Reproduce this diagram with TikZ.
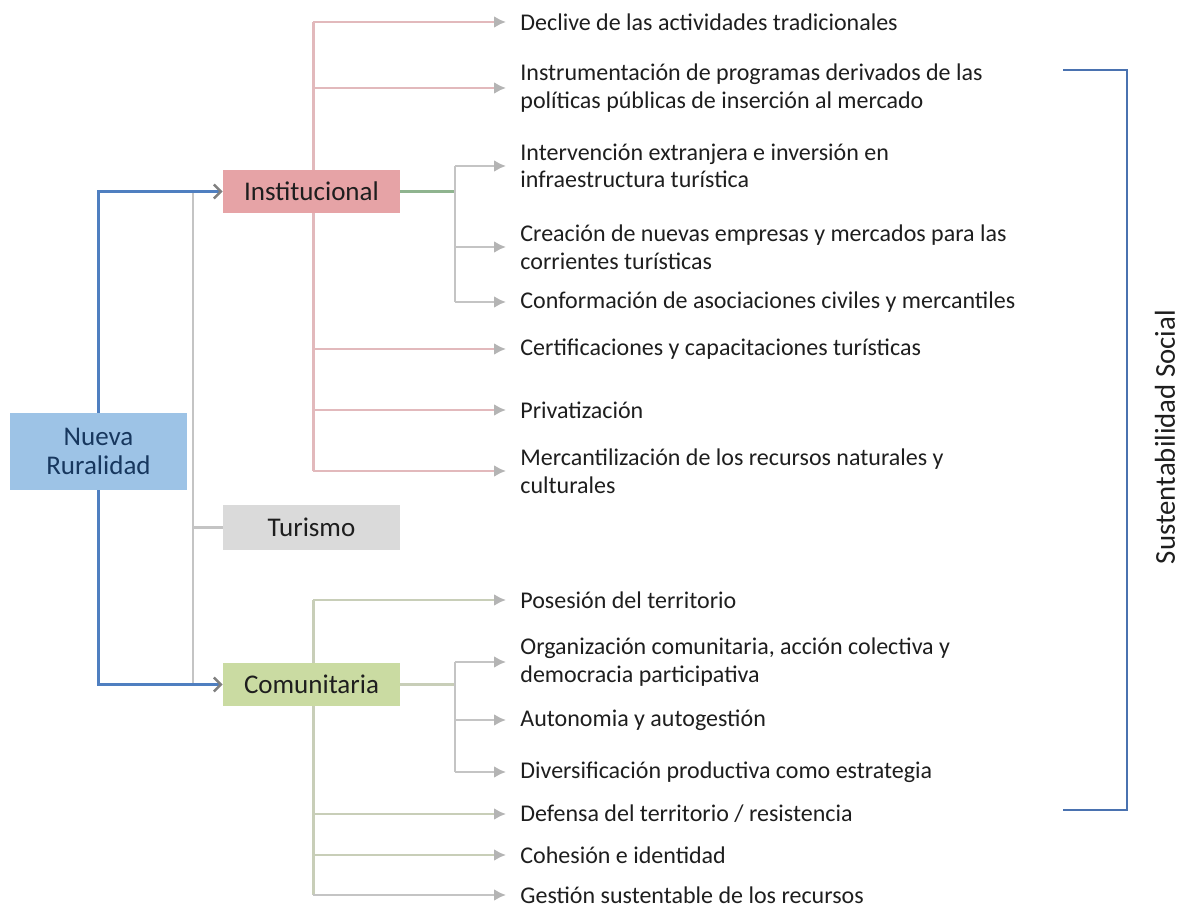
\documentclass[tikz,border=0pt]{standalone}
\usepackage{fontspec}
\setmainfont{Carlito}
\usepackage{xcolor}
\usepackage{tikz}
\usetikzlibrary{positioning}
\usetikzlibrary{arrows.meta}
\definecolor{ruralbg}{HTML}{9DC3E6}
\definecolor{ruralfg}{HTML}{17375E}
\definecolor{instbg}{HTML}{E6A3A6}
\definecolor{comubg}{HTML}{CADBA2}
\definecolor{turbg}{HTML}{DADADA}
\definecolor{leaffg}{HTML}{1E1E1E}
\definecolor{linkblue}{HTML}{4F7FC0}
\definecolor{bracketblue}{HTML}{4A72B0}
\definecolor{instline}{HTML}{E2B9BC}
\definecolor{comuline}{HTML}{C8CEB8}
\definecolor{greyline}{HTML}{C4C4C4}
\definecolor{tipgrey}{HTML}{B4B4B4}
\definecolor{instgreen}{HTML}{8FB48F}

\begin{document}
\begin{tikzpicture}[x=0.5pt, y=-0.5pt, text=leaffg,
	box/.style = {rectangle, align=center, minimum width=88.5pt, minimum height=21.5pt, inner sep=0pt, font=\fontsize{13.5}{14.5}\selectfont},
	rural/.style = {box, fill=ruralbg, text=ruralfg, minimum height=38.5pt},
	inst/.style = {box, fill=instbg},
	tur/.style = {box, fill=turbg, minimum height=22.5pt},
	comu/.style = {box, fill=comubg},
	leaf/.style = {anchor=west, align=left, inner sep=3pt, font=\fontsize{12}{13.8}\selectfont},
	linkb/.style = {draw=linkblue, line width=1.2pt, -{Straight Barb[length=3.5pt, width=7pt, color=gray]}},
	trunkI/.style = {draw=instline, line width=1.5pt},
	trunkC/.style = {draw=comuline, line width=1.5pt},
	trunkG/.style = {draw=greyline, line width=1.2pt},
	brI/.style = {draw=instline, line width=1.3pt, shorten >=4pt, -{Latex[length=6pt, width=6pt, color=tipgrey]}},
	brC/.style = {draw=comuline, line width=1.3pt, shorten >=4pt, -{Latex[length=6pt, width=6pt, color=tipgrey]}},
	brG/.style = {draw=greyline, line width=1.3pt, shorten >=4pt, -{Latex[length=6pt, width=6pt, color=tipgrey]}}]

\useasboundingbox (0,0) rectangle (1188,913);

% ramas institucionales
\node[leaf] (i1) at (514,22) {Declive de las actividades tradicionales};
\node[leaf] (i2) at (514,88) {Instrumentación de programas derivados de las\\políticas públicas de inserción al mercado};
\node[leaf] (i3) at (514,166) {Intervención extranjera e inversión en\\infraestructura turística};
\node[leaf] (i4) at (514,247) {Creación de nuevas empresas y mercados para las\\corrientes turísticas};
\node[leaf] (i5) at (514,302) {Conformación de asociaciones civiles y mercantiles};
\node[leaf] (i6) at (514,349) {Certificaciones y capacitaciones turísticas};
\node[leaf] (i7) at (514,410) {Privatización};
\node[leaf] (i8) at (514,471) {Mercantilización de los recursos naturales y\\culturales};

% ramas comunitarias
\node[leaf] (c1) at (514,600) {Posesión del territorio};
\node[leaf] (c2) at (514,662) {Organización comunitaria, acción colectiva y\\democracia participativa};
\node[leaf] (c3) at (514,720) {Autonomia y autogestión};
\node[leaf] (c4) at (514,772) {Diversificación productiva como estrategia};
\node[leaf] (c5) at (514,814) {Defensa del territorio / resistencia};
\node[leaf] (c6) at (514,855) {Cohesión e identidad};
\node[leaf] (c7) at (514,895) {Gestión sustentable de los recursos};

\coordinate (tr) at (313,0);
\coordinate (sub) at (455,0);
\coordinate (gt) at (193,0);

\draw[trunkI] (i1.west -| tr) -- (i8.west -| tr);
\draw[trunkC] (c1.west -| tr) -- (c7.west -| tr);

\node[rural] (nr) at (98.5,451.5) {Nueva\\Ruralidad};
\node[inst] (ins) at (311.5,191.5) {Institucional};
\node[tur] (tur) at (311.5,527.5) {Turismo};
\node[comu] (com) at (311.5,684.5) {Comunitaria};

\draw[trunkG] (ins.west -| gt) -- (com.west -| gt);
\draw[trunkG] (tur.west -| gt) -- (tur.west);

\draw[linkb] (nr.north) |- (ins.west);
\draw[linkb] (nr.south) |- (com.west);

\draw[draw=instgreen, line width=1.5pt] (ins.east) -- (ins.east -| sub);
\draw[trunkG] (i3.west -| sub) -- (i5.west -| sub);
\draw[draw=comuline, line width=1.5pt] (com.east) -- (com.east -| sub);
\draw[trunkG] (c2.west -| sub) -- (c4.west -| sub);

\draw[brI] (i1.west -| tr) -- (i1.west);
\draw[brI] (i2.west -| tr) -- (i2.west);
\draw[brG] (i3.west -| sub) -- (i3.west);
\draw[brG] (i4.west -| sub) -- (i4.west);
\draw[brG] (i5.west -| sub) -- (i5.west);
\draw[brI] (i6.west -| tr) -- (i6.west);
\draw[brI] (i7.west -| tr) -- (i7.west);
\draw[brI] (i8.west -| tr) -- (i8.west);

\draw[brC] (c1.west -| tr) -- (c1.west);
\draw[brG] (c2.west -| sub) -- (c2.west);
\draw[brG] (c3.west -| sub) -- (c3.west);
\draw[brG] (c4.west -| sub) -- (c4.west);
\draw[brC] (c5.west -| tr) -- (c5.west);
\draw[brC] (c6.west -| tr) -- (c6.west);
\draw[brG] (c7.west -| tr) -- (c7.west);

% llave de sustentabilidad
\coordinate (bt) at (1063,70);
\coordinate (bb) at (1063,810);
\draw[draw=bracketblue, line width=1.2pt] (bt) -- (bt -| 1127,0) -- (bb -| 1127,0) -- (bb);
\node[rotate=90, font=\fontsize{14.4}{16}\selectfont] (ss) at (1165,437) {Sustentabilidad Social};

\end{tikzpicture}
\end{document}
